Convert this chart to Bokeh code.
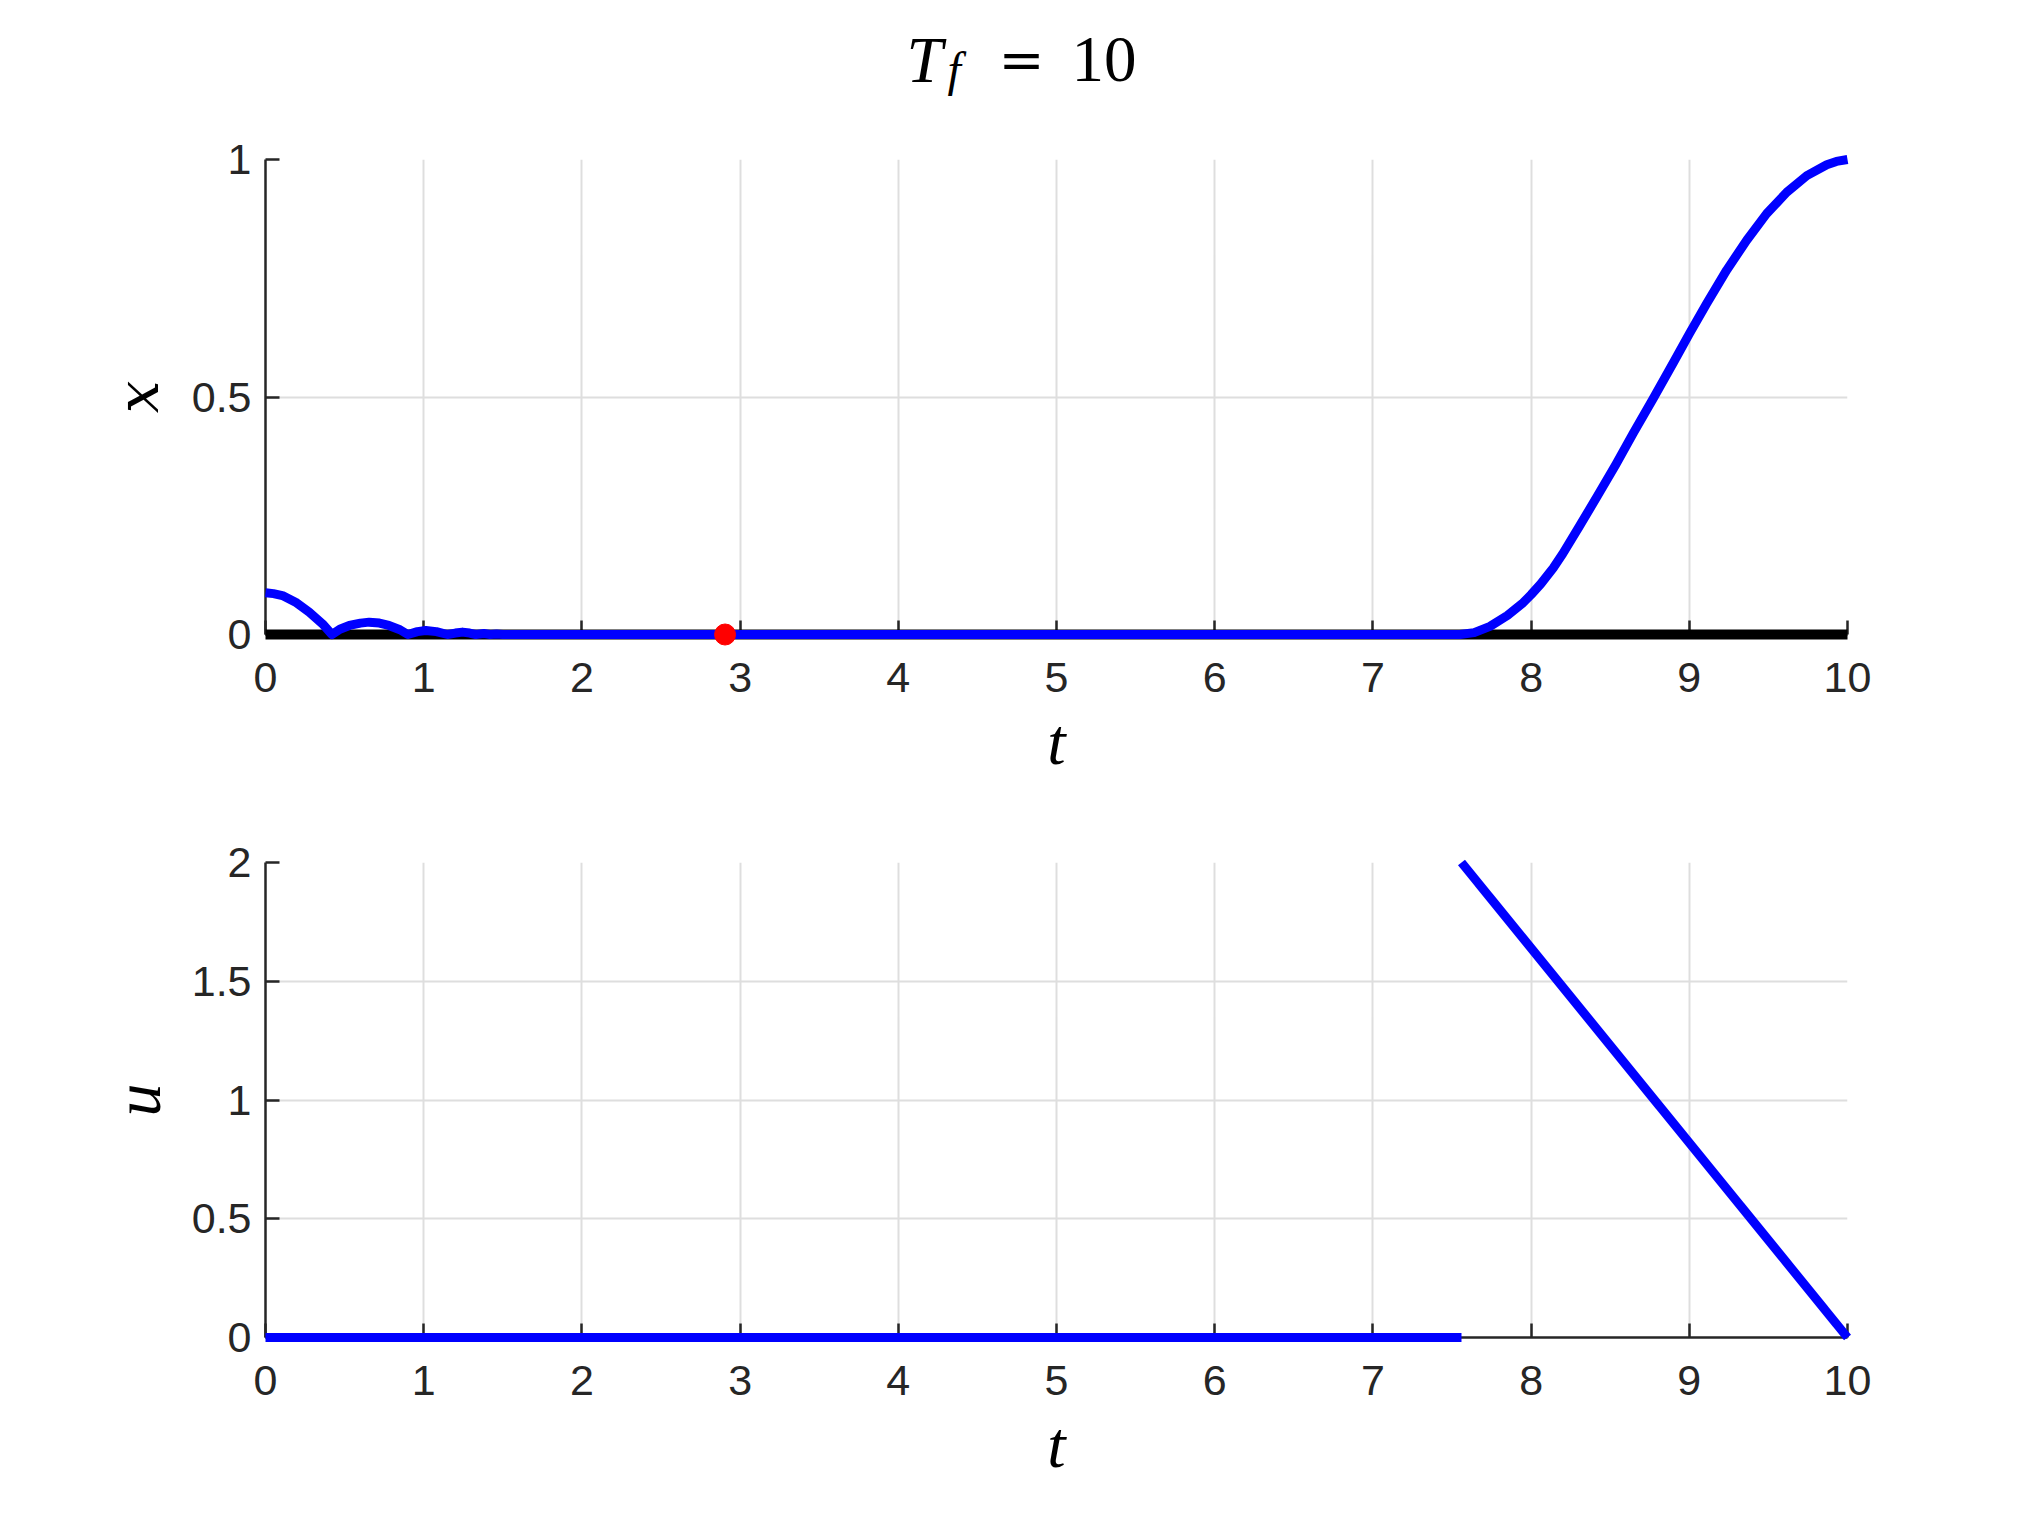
import numpy as np
from bokeh.plotting import figure
from bokeh.models import Range1d, FixedTicker, CustomJSTickFormatter
from bokeh.layouts import column
from bokeh.embed import file_html
from bokeh.resources import INLINE
from bokeh.core.properties import value

# ---------------- data ----------------
t_state = [0.0, 0.05, 0.107, 0.19, 0.276, 0.36, 0.42, 0.47, 0.53, 0.60, 0.655,
           0.72, 0.78, 0.85, 0.90, 0.96, 1.013, 1.08, 1.15, 1.20, 1.245, 1.29,
           1.33, 1.38, 1.42, 1.46, 1.50, 7.55, 7.64, 7.74, 7.85, 7.95, 8.0,
           8.06, 8.14, 8.20, 8.302, 8.42, 8.534, 8.646, 8.772, 8.899, 9.0,
           9.11, 9.236, 9.363, 9.489, 9.616, 9.743, 9.869, 9.93, 10.0]
x_state = [0.088, 0.086, 0.082, 0.068, 0.047, 0.0225, 0.0, 0.011, 0.019, 0.024, 0.026,
           0.024, 0.019, 0.010, 0.0, 0.006, 0.0084, 0.006, 0.0, 0.003, 0.005, 0.003,
           0.0, 0.002, 0.0, 0.001, 0.0, 0.0, 0.004, 0.017, 0.040, 0.067, 0.084,
           0.106, 0.140, 0.170, 0.226, 0.292, 0.357, 0.424, 0.497, 0.572, 0.633,
           0.697, 0.767, 0.830, 0.886, 0.931, 0.966, 0.989, 0.996, 1.0]
t_target = [0.0, 10.0]
x_target = [0.0, 0.0]
t_marker = [2.905]
x_marker = [0.0]
t_u_zero = [0.0, 7.56]
u_zero = [0.0, 0.0]
t_u_ramp = [7.56, 10.0]
u_ramp = [2.0, 0.0]
t_ticks = [0, 1, 2, 3, 4, 5, 6, 7, 8, 9, 10]
x_axis_ticks = [0, 0.5, 1]
u_axis_ticks = [0, 0.5, 1, 1.5, 2]
title_T = "T"
title_sub = "f"
title_eq = "="
title_val = "10"

AX = "#262626"
BLUE = "#0000ff"
FW, FH = 1582, 475
LB, RB = 265, 187


def style(p, yticks, ylabel, yfont, yfsize, ystandoff):
    p.xaxis.ticker = FixedTicker(ticks=t_ticks)
    p.yaxis.ticker = FixedTicker(ticks=yticks)
    p.xaxis.formatter = CustomJSTickFormatter(code="return tick.toString();")
    p.yaxis.formatter = CustomJSTickFormatter(code="return tick.toString();")
    for ax in (p.xaxis, p.yaxis):
        ax.axis_line_color = AX
        ax.axis_line_width = 2.5
        ax.major_tick_line_color = AX
        ax.major_tick_line_width = 2.5
        ax.major_tick_in = 14
        ax.major_tick_out = 0
        ax.minor_tick_line_color = None
        ax.major_label_text_font = "Liberation Sans"
        ax.major_label_text_font_size = "43px"
        ax.major_label_text_color = AX
        ax.axis_label_text_font_style = "italic"
        ax.axis_label_text_color = "#000000"
    p.xaxis.axis_label_text_font = "Liberation Serif"
    p.xaxis.axis_label_text_font_size = "66px"
    p.yaxis.axis_label_text_font = yfont
    p.yaxis.axis_label_text_font_size = yfsize
    p.xaxis.axis_label = "t"
    p.yaxis.axis_label = ylabel
    p.xaxis.major_label_standoff = 28
    p.yaxis.major_label_standoff = 14
    p.xaxis.axis_label_standoff = 10
    p.yaxis.axis_label_standoff = ystandoff
    p.grid.grid_line_color = "#dedede"
    p.grid.grid_line_width = 2
    p.outline_line_color = None
    p.background_fill_color = "white"
    p.border_fill_color = "white"


# ---------------- title (data units = page pixels) ----------------
pt = figure(frame_width=FW, frame_height=108, x_range=Range1d(LB, LB + FW),
            y_range=Range1d(108, 0), output_backend="svg", toolbar_location=None,
            x_axis_location=None, y_axis_location=None,
            min_border_left=LB, min_border_right=RB, min_border_top=0, min_border_bottom=0)
pt.grid.visible = False
pt.outline_line_color = None
pt.text(x=[906], y=[59], text=[title_T], text_font=value("Liberation Serif"),
        text_font_style="italic", text_font_size="65px", text_baseline="alphabetic",
        text_align="left", text_color="black", level="overlay")
pt.text(x=[947], y=[69], text=[title_sub], text_font=value("Liberation Serif"),
        text_font_style="italic", text_font_size="48px", text_baseline="alphabetic",
        text_align="left", text_color="black", level="overlay")
pt.text(x=[998], y=[59], text=[title_eq], text_font=value("DejaVu Serif"),
        text_font_size="55px", text_baseline="alphabetic",
        text_align="left", text_color="black", level="overlay")
pt.text(x=[1071], y=[59], text=[title_val], text_font=value("Liberation Serif"),
        text_font_size="65px", text_baseline="alphabetic",
        text_align="left", text_color="black", level="overlay")

# ---------------- top: x(t) ----------------
p1 = figure(frame_width=FW, frame_height=FH, x_range=Range1d(0, 10), y_range=Range1d(0, 1),
            output_backend="svg", toolbar_location=None,
            min_border_left=LB, min_border_right=RB, min_border_top=51, min_border_bottom=175)
style(p1, x_axis_ticks, "x", "DejaVu Serif", "58px", 17)
p1.line(t_target, x_target, line_color="black", line_width=10, level="overlay")
p1.line(t_state, x_state, line_color=BLUE, line_width=9, line_join="round",
        level="overlay")
p1.scatter(t_marker, x_marker, size=21, fill_color="#ff0000", line_color="#ff0000",
           level="overlay")

# ---------------- bottom: u(t) ----------------
p2 = figure(frame_width=FW, frame_height=FH, x_range=Range1d(0, 10), y_range=Range1d(0, 2),
            output_backend="svg", toolbar_location=None,
            min_border_left=LB, min_border_right=RB, min_border_top=53, min_border_bottom=175)
style(p2, u_axis_ticks, "u", "Liberation Serif", "66px", 15)
p2.line(t_u_zero, u_zero, line_color=BLUE, line_width=9, level="overlay")
p2.line(t_u_ramp, u_ramp, line_color=BLUE, line_width=9, level="overlay")

layout = column(pt, p1, p2, spacing=0)
open("out.html", "w").write(file_html(layout, INLINE))
